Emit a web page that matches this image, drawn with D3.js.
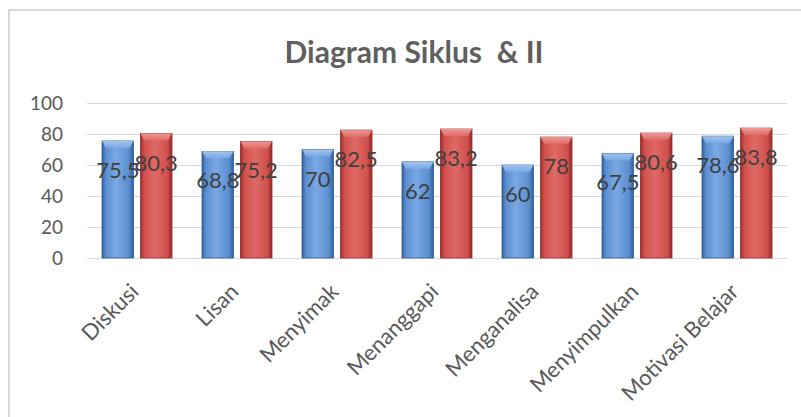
<!DOCTYPE html>
<html>
<head>
<meta charset="utf-8">
<script src="https://cdn.jsdelivr.net/npm/d3@7"></script>
<style>
    body { margin: 0; background: #fff; }
    svg { display: block; font-family: Lato, "Open Sans", sans-serif; }
</style>
</head>
<body>
<div id="chart"></div>
<script>
// Data :
const categories = ['Diskusi', 'Lisan', 'Menyimak', 'Menanggapi', 'Menganalisa', 'Menyimpulkan', 'Motivasi Belajar'];
const series = ['Siklus I', 'Siklus II'];
const siklus1 = [75.5, 68.8, 70, 62, 60, 67.5, 78.6];
const siklus2 = [80.3, 75.2, 82.5, 83.2, 78, 80.6, 83.8];
const yTicks = [0, 20, 40, 60, 80, 100];

const width = 801, height = 417;
const margin = [103, 159, 87, 14]; // [top, bottom, left, right]

const svg = d3.select('#chart').append('svg')
    .attr('width', width).attr('height', height);

// Gradients (office style bevelled bars)
const defs = svg.append('defs');
const palettes = [
    { id: 'blue', dark: '#2f5f9a', mid: '#5b8fd0', light: '#7aa8e4', cap: '#a9c8f0' },
    { id: 'red', dark: '#962c29', mid: '#d0504c', light: '#e06a66', cap: '#f0a09d' }
];
palettes.forEach(p => {
    let g = defs.append('linearGradient').attr('id', 'g-' + p.id)
        .attr('x1', 0).attr('x2', 1).attr('y1', 0).attr('y2', 0);
    g.append('stop').attr('offset', '0%').attr('stop-color', p.dark);
    g.append('stop').attr('offset', '12%').attr('stop-color', p.mid);
    g.append('stop').attr('offset', '45%').attr('stop-color', p.light);
    g.append('stop').attr('offset', '85%').attr('stop-color', p.mid);
    g.append('stop').attr('offset', '100%').attr('stop-color', p.dark);
    let c = defs.append('linearGradient').attr('id', 'c-' + p.id)
        .attr('x1', 0).attr('x2', 0).attr('y1', 0).attr('y2', 1);
    c.append('stop').attr('offset', '0%').attr('stop-color', p.cap);
    c.append('stop').attr('offset', '100%').attr('stop-color', p.light);
});

// Frame
svg.append('rect')
    .attr('x', 9).attr('y', 10).attr('width', width + 10).attr('height', height + 10)
    .attr('fill', '#fff').attr('stroke', '#d9d9d9').attr('stroke-width', 2);

// Title
svg.append('text')
    .attr('x', 414).attr('y', 63)
    .attr('text-anchor', 'middle')
    .attr('font-size', 30).attr('font-weight', 'bold')
    .attr('fill', '#5f5f5f')
    .style('white-space', 'pre')
    .text('Diagram Siklus  & II');

// Scales
const scaleX = d3.scaleBand(categories, [margin[2], width - margin[3]]);
const scaleS = d3.scaleBand(series, [0, scaleX.bandwidth()]).paddingInner(0.18).paddingOuter(0.39);
const scaleY = d3.scaleLinear([0, 100], [height - margin[1], margin[0]]);

// Grid
const grid = svg.append('g');
grid.selectAll('line').data(yTicks).join('line')
    .attr('x1', margin[2]).attr('x2', width - margin[3])
    .attr('y1', d => Math.round(scaleY(d)) + 0.5).attr('y2', d => Math.round(scaleY(d)) + 0.5)
    .attr('stroke', '#d9d9d9').attr('stroke-width', 1);

// Y axis labels
const axisY = svg.append('g')
    .attr('transform', `translate(${margin[2] - 24},0)`)
    .call(d3.axisLeft(scaleY).tickValues(yTicks).tickSize(0).tickPadding(0));
axisY.select('.domain').remove();
axisY.selectAll('text')
    .attr('font-family', 'Lato, sans-serif').attr('font-size', 19).attr('fill', '#595959');

// Bars
const values = [siklus1, siklus2];
const rows = [];
categories.forEach((c, i) => series.forEach((s, j) => rows.push({ c, s, j, v: values[j][i] })));

const bars = svg.append('g').selectAll('g.bar').data(rows).join('g').classed('bar', true)
    .attr('transform', d => `translate(${scaleX(d.c) + scaleS(d.s)},0)`);
const bw = scaleS.bandwidth();
const cap = 7;

bars.append('rect')
    .attr('x', 0).attr('width', bw)
    .attr('y', d => scaleY(d.v)).attr('height', d => scaleY(0) - scaleY(d.v))
    .attr('fill', d => `url(#g-${palettes[d.j].id})`)
    .attr('stroke', d => palettes[d.j].dark).attr('stroke-width', 0.8);

bars.append('path')
    .attr('d', d => {
        let t = scaleY(d.v);
        return `M0,${t}L${bw},${t}L${bw - 4},${t + cap}L4,${t + cap}Z`;
    })
    .attr('fill', d => `url(#c-${palettes[d.j].id})`)
    .attr('opacity', 0.9);

// Value labels
bars.append('text')
    .attr('x', bw / 2)
    .attr('y', d => scaleY(d.v) + 37)
    .attr('text-anchor', 'middle')
    .attr('font-size', 22)
    .attr('fill', '#404040')
    .text(d => String(d.v).replace('.', ','));

// X axis labels
svg.append('g').selectAll('text').data(categories).join('text')
    .attr('transform', d => `translate(${scaleX(d) + scaleX.bandwidth() / 2 + 3},${height - margin[1] + 35}) rotate(-45)`)
    .attr('text-anchor', 'end')
    .attr('font-size', 22)
    .attr('fill', '#595959')
    .text(d => d);
</script>
</body>
</html>
